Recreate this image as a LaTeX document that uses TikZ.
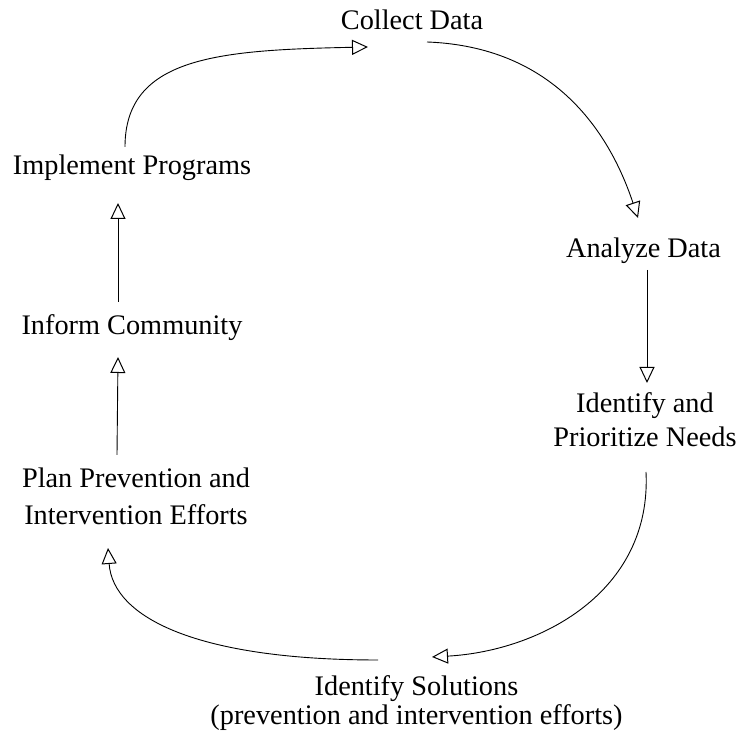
\documentclass[tikz,border=0pt]{standalone}
\usepackage{fontspec}
\setmainfont{Liberation Serif}
\usetikzlibrary{arrows.meta}

\begin{document}
\begin{tikzpicture}[x=1pt,y=1pt,
  lbl/.style={inner sep=0pt,anchor=base,align=center,font=\fontsize{28.3}{34}\selectfont},
  flow/.style={line width=0.9pt,-{Triangle[open,length=16pt,width=15pt,line width=1pt]}}]
\useasboundingbox (0,0) rectangle (740,733);

% steps of the cycle (base = last line)
\node[lbl] (collect) at (412,703) {Collect Data};
\node[lbl] (analyze) at (643.5,475) {Analyze Data};
\node[lbl] (needs) at (645,286) {Identify and\\Prioritize Needs};
\node[lbl,font=\fontsize{28.3}{29}\selectfont] (solutions) at (416.5,8) {Identify Solutions\\(prevention and intervention efforts)};
\node[lbl,font=\fontsize{28.3}{37}\selectfont] (plan) at (136,208) {Plan Prevention and\\Intervention Efforts};
\node[lbl] (inform) at (132,398) {Inform Community};
\node[lbl] (implement) at (132,558) {Implement Programs};

% arrows
\draw[flow] ([shift={(15,-12)}]collect.base)
  .. controls +(135,-5) and +(-25,75) .. ([shift={(-5.5,40)}]analyze.base);
\draw[flow] ([shift={(3.5,-12)}]analyze.base) -- ([shift={(2,64)}]needs.base);
\draw[flow] ([shift={(1,-25)}]needs.base)
  .. controls +(6,-120) and +(108,6) .. ([shift={(15.5,68)}]solutions.base);
\draw[flow] ([shift={(-38.5,65)}]solutions.base)
  .. controls +(-180,0) and +(5,-70) .. ([shift={(-28,-23)}]plan.base);
\draw[flow] ([shift={(-19,70)}]plan.base) -- ([shift={(-14,-22)}]inform.base);
\draw[flow] ([shift={(-14,33)}]inform.base) -- ([shift={(-14,-28)}]implement.base);
\draw[flow] ([shift={(-7,28)}]implement.base)
  .. controls +(0,90) and +(-150,-3) .. ([shift={(-44,-17)}]collect.base);

\end{tikzpicture}
\end{document}
